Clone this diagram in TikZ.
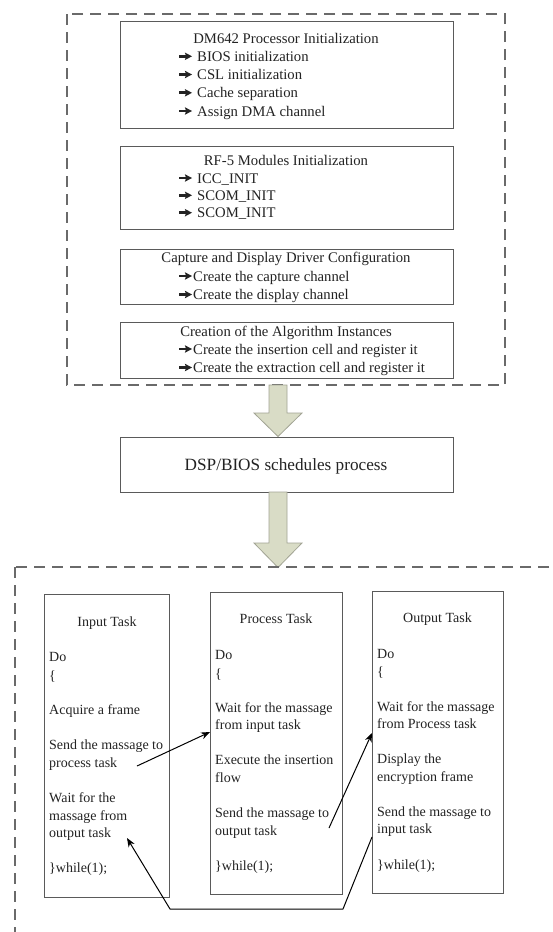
\documentclass[tikz,border=0pt]{standalone}
\usepackage{fontspec}
\setmainfont{Liberation Serif}
\usetikzlibrary{arrows.meta}
\definecolor{txt}{HTML}{232323}
\definecolor{frame}{HTML}{5A5A5A}
\definecolor{dash}{HTML}{6A6A6A}
\definecolor{blockfill}{HTML}{D9DCC6}
\definecolor{blockline}{HTML}{A2A494}
\begin{document}
\begin{tikzpicture}[x=1pt,y=-1pt,
  panel/.style={draw=frame, line width=1.1pt, inner sep=0pt, anchor=north west},
  group/.style={draw=dash, line width=1.2pt, dash pattern=on 11pt off 7pt},
  ln/.style={anchor=base west, inner sep=0pt, text=txt, font=\fontsize{14}{16}\selectfont},
  ttl/.style={anchor=base, inner sep=0pt, text=txt, font=\fontsize{14}{16}\selectfont},
  iln/.style={anchor=base west, inner sep=0pt, text=txt, font=\fontsize{14.7}{16}\selectfont},
  ittl/.style={anchor=base, inner sep=0pt, text=txt, font=\fontsize{14.7}{16}\selectfont},
  big/.style={anchor=base, inner sep=0pt, text=txt, font=\fontsize{17.2}{20}\selectfont},
  block/.style={fill=blockfill, draw=blockline, line width=0.8pt, line join=miter},
  msg/.style={draw=black, line width=1pt, -{Stealth[length=9pt,width=7pt]}},
  bullet/.pic={
    \fill[txt] (0,-3.6) rectangle (7,-6.4);
    \fill[txt] (5.8,-1.2) -- (13,-5) -- (5.8,-8.8) -- (7.2,-5) -- cycle;}]
\useasboundingbox (0,0) rectangle (552,932);
\clip (0,0) rectangle (552,932);
\fill[white] (0,0) rectangle (552,932);

% initialisation group
\draw[group] (67,14) rectangle (505,385);

\node[panel, minimum width=333pt, minimum height=107pt] (dm) at (120,21) {};
\node[ittl] (dmT) at (286,43) {DM642 Processor Initialization};
\foreach \y/\t [count=\i] in {61.3/BIOS initialization, 79.5/CSL initialization,
    97.8/Cache separation, 116/Assign DMA channel} {
  \pic at (179,\y) {bullet};
  \node[iln] (dm\i) at (197,\y) {\t};
}

\node[panel, minimum width=333pt, minimum height=83pt] (rf) at (120,146) {};
\node[ittl] (rfT) at (286,165.5) {RF-5 Modules Initialization};
\foreach \y/\t [count=\i] in {183/ICC\_INIT, 200.3/SCOM\_INIT, 217.7/SCOM\_INIT} {
  \pic at (179,\y) {bullet};
  \node[iln] (rf\i) at (197,\y) {\t};
}

\node[panel, minimum width=333pt, minimum height=55pt] (cap) at (120,249) {};
\node[ittl] (capT) at (286,262.5) {Capture and Display Driver Configuration};
\foreach \y/\t [count=\i] in {281/Create the capture channel, 299.5/Create the display channel} {
  \pic at (179,\y) {bullet};
  \node[iln] (cap\i) at (193,\y) {\t};
}

\node[panel, minimum width=333pt, minimum height=56pt] (alg) at (120,322) {};
\node[ittl] (algT) at (286,336.5) {Creation of the Algorithm Instances};
\foreach \y/\t [count=\i] in {354/Create the insertion cell and register it,
    372.5/Create the extraction cell and register it} {
  \pic at (179,\y) {bullet};
  \node[iln] (alg\i) at (193,\y) {\t};
}

% scheduler
\node[panel, minimum width=333pt, minimum height=55pt] (dsp) at (120,437) {};
\node[big] (dspT) at (286,470) {DSP/BIOS schedules process};

% block arrows between the stages
\draw[block] (269,385) -- (287,385) -- (287,413) -- (302,413) -- (278,436.5)
  -- (254,413) -- (269,413) -- cycle;
\draw[block] (269,492) -- (287,492) -- (287,543) -- (302,543) -- (278,567.5)
  -- (254,543) -- (269,543) -- cycle;

% task group
\draw[group] (15,567) rectangle (600,960);

% input task
\node[panel, minimum width=125pt, minimum height=303pt] (inp) at (44,594) {};
\node[ttl] (inpT) at (107,626.5) {Input Task};
\node[ln] (in1) at (49,661.5) {Do};
\node[ln] (in2) at (49,680.5) {\{};
\node[ln] (in3) at (49,714.5) {Acquire a frame};
\node[ln] (in4) at (49,749.5) {Send the massage to};
\node[ln] (in5) at (49,767.5) {process task};
\node[ln] (in6) at (49,802.5) {Wait for the};
\node[ln] (in7) at (49,820.5) {massage from};
\node[ln] (in8) at (49,837.5) {output task};
\node[ln] (in9) at (49,872.5) {\}while(1);};

% process task
\node[panel, minimum width=132pt, minimum height=302pt] (pro) at (210,592) {};
\node[ttl] (proT) at (276,623.5) {Process Task};
\node[ln] (pr1) at (215,659.5) {Do};
\node[ln] (pr2) at (215,678.5) {\{};
\node[ln] (pr3) at (215,712.5) {Wait for the massage};
\node[ln] (pr4) at (215,729.5) {from input task};
\node[ln] (pr5) at (215,764.5) {Execute the insertion};
\node[ln] (pr6) at (215,782.5) {flow};
\node[ln] (pr7) at (215,817.5) {Send the massage to};
\node[ln] (pr8) at (215,835.5) {output task};
\node[ln] (pr9) at (215,870.5) {\}while(1);};

% output task
\node[panel, minimum width=131pt, minimum height=302pt] (out) at (372,591) {};
\node[ttl] (outT) at (437.5,622.5) {Output Task};
\node[ln] (ou1) at (377,658.5) {Do};
\node[ln] (ou2) at (377,676.5) {\{};
\node[ln] (ou3) at (377,711.5) {Wait for the massage};
\node[ln] (ou4) at (377,728.5) {from Process task};
\node[ln] (ou5) at (377,763.5) {Display the};
\node[ln] (ou6) at (377,781.5) {encryption frame};
\node[ln] (ou7) at (377,816.5) {Send the massage to};
\node[ln] (ou8) at (377,833.5) {input task};
\node[ln] (ou9) at (377,869.5) {\}while(1);};

% message hand-offs between the tasks
\coordinate (sendP) at (137,766);
\coordinate (recvP) at (210,732);
\coordinate (sendO) at (329,828);
\coordinate (recvO) at (372,733);
\coordinate (sendI) at (372,837);
\coordinate (loopR) at (343,909);
\coordinate (loopL) at (170,909);
\coordinate (recvI) at (127,838);
\draw[msg] (sendP) -- (recvP);
\draw[msg] (sendO) -- (recvO);
\draw[msg, line join=round] (sendI) -- (loopR) -- (loopL) -- (recvI);
\end{tikzpicture}
\end{document}
